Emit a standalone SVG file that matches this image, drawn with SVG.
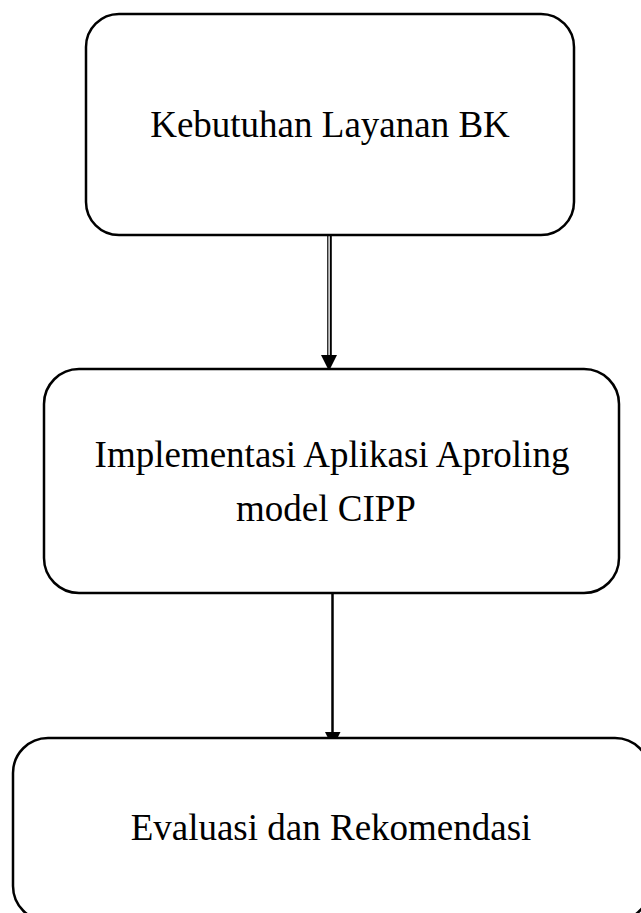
<svg xmlns="http://www.w3.org/2000/svg" width="641" height="913" viewBox="0 0 641 913">
<defs>
<style>
.box{fill:#fff;stroke:#000;stroke-width:2.5}
.lbl{font-family:"Liberation Serif","Times New Roman",serif;font-size:37px;fill:#000;text-anchor:middle}
.conn{stroke:#000;fill:none}
</style>
</defs>
<rect width="641" height="913" fill="#fff"/>
<g id="connectors">
<line class="conn" x1="327.8" y1="236" x2="327.8" y2="360" stroke-width="1.2"/>
<line class="conn" x1="330.8" y1="236" x2="330.8" y2="360" stroke-width="2"/>
<path d="M321,355 L337,355 L329,371 Z" fill="#000"/>
<line class="conn" x1="332.5" y1="593" x2="332.5" y2="733" stroke-width="2.5"/>
<path d="M325,732 L340.5,732 L332.8,747.5 Z" fill="#000"/>
</g>
<g id="node1">
<rect class="box" x="86" y="14" width="488" height="221" rx="33" ry="33"/>
<text class="lbl" x="330" y="137">Kebutuhan Layanan BK</text>
</g>
<g id="node2">
<rect class="box" x="44" y="369" width="575" height="224" rx="35" ry="35"/>
<text class="lbl" x="332" y="467">Implementasi Aplikasi Aproling</text>
<text class="lbl" x="326" y="521">model CIPP</text>
</g>
<g id="node3">
<rect class="box" x="13" y="738" width="637" height="183" rx="35" ry="35"/>
<text class="lbl" x="331" y="840">Evaluasi dan Rekomendasi</text>
</g>
</svg>
